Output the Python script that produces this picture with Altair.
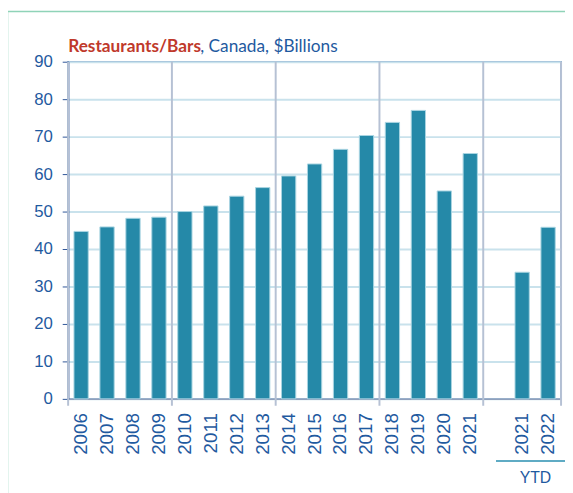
import altair as alt
import pandas as pd

slots = ["2006", "2007", "2008", "2009", "2010", "2011", "2012", "2013", "2014",
         "2015", "2016", "2017", "2018", "2019", "2020", "2021", "gap",
         "2021 YTD", "2022 YTD"]
values = [44.7, 45.9, 48.2, 48.5, 50.0, 51.5, 54.1, 56.4, 59.5,
          62.7, 66.6, 70.3, 73.8, 77.0, 55.5, 65.5, None, 33.8, 45.8]
boundaries = [0, 4, 8, 12, 16, 19]

df = pd.DataFrame({"slot": slots, "value": values})
bars_df = df.dropna()
bnd_df = pd.DataFrame({"b": boundaries})

W, H = 500, 342
BLUE = "#1f5aa0"
BAR = "#2589a8"

label_expr = "datum.value == 'gap' ? '' : substring(datum.value, 0, 4)"

vlines = alt.Chart(bnd_df).mark_rule(color="#b6c1d4", strokeWidth=2).encode(
    x=alt.X("b:Q", scale=alt.Scale(domain=[0, 19], nice=False, zero=False), axis=None),
    y=alt.value(0),
    y2=alt.value(H + 7),
)

bars = alt.Chart(bars_df).mark_bar(color=BAR, stroke="#a9d4e2", strokeWidth=1).encode(
    x=alt.X("slot:N", sort=slots,
            scale=alt.Scale(domain=slots, paddingInner=0.45, paddingOuter=0.225),
            axis=alt.Axis(title=None, labelExpr=label_expr, labelAngle=270,
                          labelColor=BLUE, labelFontSize=19, labelFont="Liberation Sans",
                          ticks=False, labelPadding=14, domainColor="#8fa0bc",
                          domainWidth=1.5, grid=False, labelAlign="right",
                          labelBaseline="middle")),
    y=alt.Y("value:Q", scale=alt.Scale(domain=[0, 90], nice=False),
            axis=alt.Axis(title=None, values=list(range(0, 91, 10)), labelColor=BLUE,
                          labelFontSize=17, labelFont="Liberation Sans",
                          tickColor="#2f5597", tickSize=6, labelPadding=10,
                          domainColor="#2f5597", domainWidth=1.5,
                          gridColor="#c9e2ec", gridWidth=2)),
)

title_df = pd.DataFrame({"a": [0]})
t1 = alt.Chart(title_df).mark_text(text="Restaurants/Bars", color="#c0392b", fontWeight="bold",
                                   fontSize=17.5, font="Lato", align="left", baseline="alphabetic").encode(
    x=alt.value(0), y=alt.value(-10))
t2 = alt.Chart(title_df).mark_text(text=", Canada, $Billions", color=BLUE,
                                   fontSize=17.5, font="Lato", align="left", baseline="alphabetic").encode(
    x=alt.value(134), y=alt.value(-10))

ytd_line = alt.Chart(title_df).mark_rule(color="#2a8fb0", strokeWidth=1.5).encode(
    x=alt.value(434), x2=alt.value(504), y=alt.value(H + 63))
ytd_text = alt.Chart(title_df).mark_text(text="YTD", color=BLUE, fontSize=16,
                                         font="Liberation Sans", align="center",
                                         baseline="middle").encode(
    x=alt.value(474), y=alt.value(H + 80))

frame_left = alt.Chart(title_df).mark_rule(color="#8fd3b8", strokeWidth=1.5).encode(
    x=alt.value(-61.5), y=alt.value(-51), y2=alt.value(H + 100))
frame_top = alt.Chart(title_df).mark_rule(color="#8fd3b8", strokeWidth=1.5).encode(
    x=alt.value(-61.5), x2=alt.value(W + 10), y=alt.value(-51))

chart = alt.layer(vlines, bars, t1, t2, ytd_line, ytd_text, frame_left, frame_top).resolve_scale(
    x="independent"
).properties(
    width=W, height=H,
    padding={"left": 61, "top": 51, "right": 4, "bottom": 92},
    autosize="none",
).configure_view(stroke="#4f7db5", strokeWidth=1.5)

chart.save("out.html", embed_options={"renderer": "svg", "actions": False})
